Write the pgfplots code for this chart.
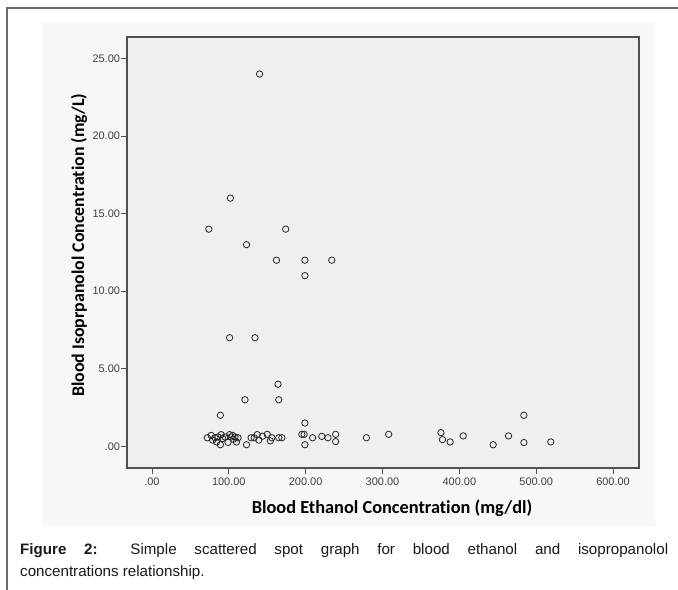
\documentclass[border=0pt]{standalone}
\usepackage{fontspec}
\setmainfont{Liberation Sans}
\newfontfamily\carlito[Ligatures=NoCommon]{Carlito}
\usepackage{pgfplots}
\pgfplotsset{compat=1.18}
\definecolor{panel}{HTML}{F7F7F7}
\definecolor{plotbg}{HTML}{EFEFEF}
\definecolor{axcol}{HTML}{505050}
\definecolor{tickcol}{HTML}{404040}
\definecolor{framecol}{HTML}{6A6A6A}

\pgfplotstableread{
x y
140 24
102 16
74 14
174 14
123 13
162 12
199 12
234 12
199 11
101 7
134 7
164 4
121 3
165 3
89 2
199 1.5
484 2
72 0.55
77 0.7
79 0.4
82 0.55
84 0.28
86 0.6
89 0.1
90 0.75
92 0.5
95 0.6
99 0.25
101 0.75
103 0.6
105 0.7
106 0.45
108 0.6
110 0.28
112 0.55
123 0.1
129 0.55
133 0.55
137 0.75
139 0.4
144 0.65
150 0.77
154 0.35
156 0.55
165 0.55
169 0.55
195 0.77
198 0.77
199 0.1
209 0.55
221 0.64
229 0.55
239 0.77
239 0.3
279 0.55
308 0.77
376 0.88
378 0.43
388 0.28
405 0.67
444 0.1
464 0.67
484 0.24
519 0.28
}\datatable

\begin{document}
\begin{tikzpicture}[x=1bp,y=1bp]
\useasboundingbox (0,0) rectangle (678,590);
\fill[white] (0,0) rectangle (678,590);
\draw[framecol, line width=1.2bp] (7,0) -- (7,582) -- (678,582);
\fill[panel] (42,64) rectangle (655,567);
\begin{axis}[
  at={(127bp,122bp)}, anchor=south west,
  scale only axis, width=512bp, height=431bp,
  xmin=-32.5, xmax=633.8, ymin=-1.40, ymax=26.39,
  axis background/.style={fill=plotbg},
  axis line style={axcol, line width=1.2bp},
  tick style={axcol, line width=0.9bp},
  tick align=outside, major tick length=6bp,
  xtick pos=bottom, ytick pos=left,
  xtick={0,100,200,300,400,500,600},
  xticklabels={.00,100.00,200.00,300.00,400.00,500.00,600.00},
  ytick={0,5,10,15,20,25},
  yticklabels={.00,5.00,10.00,15.00,20.00,25.00},
  tick label style={font=\fontsize{11}{13}\selectfont, text=tickcol},
  xticklabel style={yshift=-0.5bp},
  yticklabel style={xshift=2.5bp},
  xlabel={Blood Ethanol Concentration (mg/dl)},
  ylabel={Blood Isoprpanolol Concentration (mg/L)},
  xlabel style={at={(rel axis cs:0.5176,-0.0935)}, anchor=center, font=\carlito\bfseries\fontsize{18.4}{20}\selectfont, text=black},
  ylabel style={at={(rel axis cs:-0.09375,0.5167)}, anchor=center, rotate=0, font=\carlito\bfseries\fontsize{17.9}{20}\selectfont, text=black},
]
\addplot[only marks, mark=o, mark size=3.2bp, mark options={line width=0.8bp, draw=black!85}] table[x=x,y=y] {\datatable};
\end{axis}
\node[anchor=base west, inner sep=0, text=black!90, font=\fontsize{15.2}{17}\selectfont] at (20,35.2)
  {\makebox[648bp][s]{\textbf{Figure 2:} Simple scattered spot graph for blood ethanol and isopropanolol}};
\node[anchor=base west, inner sep=0, text=black!90, font=\fontsize{15.2}{17}\selectfont] at (20,13.2)
  {concentrations relationship.};
\end{tikzpicture}
\end{document}
